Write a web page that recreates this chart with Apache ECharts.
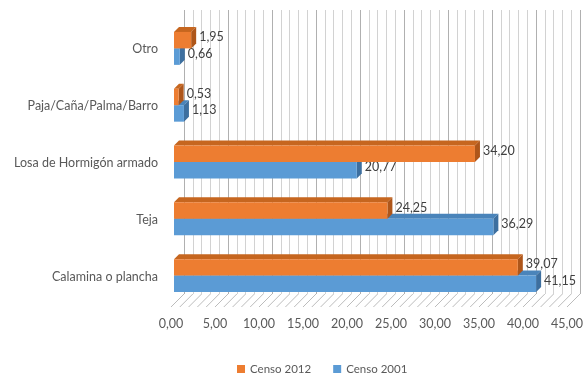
<!DOCTYPE html>
<html>
<head>
<meta charset="utf-8">
<script src="https://cdn.jsdelivr.net/npm/echarts@6/dist/echarts.min.js"></script>
<style>
  html, body { margin: 0; padding: 0; background: #fff; }
  #mychart { width: 587px; height: 375px; }
</style>
</head>
<body>
<div id="mychart"></div>
<script>
// datos (de abajo hacia arriba)
const categorias = ['Calamina o plancha', 'Teja', 'Losa de Hormigón armado', 'Paja/Caña/Palma/Barro', 'Otro']
const censo2012 = [39.07, 24.25, 34.20, 0.53, 1.95]
const censo2001 = [41.15, 36.29, 20.77, 1.13, 0.66]

const fmt = v => v.toFixed(2).replace('.', ',')
const fuente = 'Lato, "Open Sans", sans-serif'

// desplazamientos de la perspectiva
const FRENTE = 10 // cara frontal de la barra respecto a la pared del fondo
const PROF = 5 // profundidad de la barra
const PISO = 13 // profundidad del piso

function barra3d(colores, arriba) {
  return function(params, api) {
    const v = api.value(0)
    const c = api.value(1)
    const p0 = api.coord([0, c])
    const p1 = api.coord([v, c])
    const banda = api.size([0, 1])[1]
    const h = banda * 0.29
    const x = p0[0] - FRENTE
    const y = (arriba ? p0[1] - h : p0[1]) + FRENTE
    const w = Math.max(p1[0] - p0[0], 1)
    return {
      type: 'group',
      children: [
        {
          type: 'polygon',
          shape: { points: [[x, y], [x + PROF, y - PROF], [x + w + PROF, y - PROF], [x + w, y]] },
          style: { fill: colores[1] }
        },
        {
          type: 'polygon',
          shape: { points: [[x + w, y], [x + w + PROF, y - PROF], [x + w + PROF, y + h - PROF], [x + w, y + h]] },
          style: { fill: colores[2] }
        },
        {
          type: 'rect',
          shape: { x: x, y: y, width: w, height: h },
          style: { fill: colores[0] }
        },
        {
          type: 'text',
          x: x + w + PROF + 3,
          y: y + h / 2 - 3,
          style: {
            text: fmt(v),
            fill: '#404040',
            font: '12.5px ' + fuente,
            verticalAlign: 'middle'
          }
        }
      ]
    }
  }
}

const option = {
  animation: false,
  backgroundColor: '#fff',
  grid: [
    { left: 184, top: 10, width: 396, height: 284 }, // pared del fondo
    { left: 171, top: 21, width: 396, height: 284 } // plano frontal (etiquetas)
  ],
  legend: {
    data: ['Censo 2012', 'Censo 2001'],
    icon: 'rect',
    itemWidth: 8,
    itemHeight: 8,
    itemGap: 22,
    top: 358,
    left: 232,
    textStyle: { color: '#595959', fontSize: 11.5, fontFamily: fuente }
  },
  xAxis: [
    {
      gridIndex: 0,
      type: 'value',
      min: 0,
      max: 45,
      interval: 5,
      axisLabel: { show: false },
      axisLine: { show: false },
      axisTick: { show: false },
      minorTick: { show: false, splitNumber: 5 },
      splitLine: { show: true, lineStyle: { color: '#b0b0b0' } },
      minorSplitLine: { show: true, lineStyle: { color: '#d2d2d2' } }
    },
    {
      gridIndex: 1,
      type: 'value',
      min: 0,
      max: 45,
      interval: 5,
      axisLabel: {
        margin: 12,
        color: '#595959',
        fontSize: 12.5,
        fontFamily: fuente,
        formatter: v => fmt(v)
      },
      axisLine: { show: false },
      axisTick: { show: false },
      splitLine: { show: false }
    }
  ],
  yAxis: [
    {
      gridIndex: 0,
      type: 'category',
      data: categorias,
      axisLabel: { show: false },
      axisLine: { show: false },
      axisTick: { show: false }
    },
    {
      gridIndex: 1,
      type: 'category',
      data: categorias,
      axisLabel: { margin: 13, color: '#595959', fontSize: 12.5, fontFamily: fuente },
      axisLine: { show: false },
      axisTick: { show: false }
    }
  ],
  series: [
    {
      // diagonales del piso
      name: 'piso',
      type: 'custom',
      xAxisIndex: 0,
      yAxisIndex: 0,
      silent: true,
      data: Array.from({ length: 46 }, (_, i) => [i, 0]),
      renderItem: function(params, api) {
        const p = api.coord([api.value(0), 0])
        const fondo = params.coordSys.y + params.coordSys.height
        return {
          type: 'line',
          shape: { x1: p[0], y1: fondo, x2: p[0] - PISO, y2: fondo + PISO },
          style: { stroke: '#bcbcbc', lineWidth: 1 }
        }
      }
    },
    {
      name: 'Censo 2001',
      type: 'custom',
      xAxisIndex: 0,
      yAxisIndex: 0,
      itemStyle: { color: '#5B9BD5' },
      data: censo2001.map((v, i) => [v, i]),
      renderItem: barra3d(['#5B9BD5', '#4a84ba', '#3d6f9f'], false)
    },
    {
      name: 'Censo 2012',
      type: 'custom',
      xAxisIndex: 0,
      yAxisIndex: 0,
      itemStyle: { color: '#ED7D31' },
      data: censo2012.map((v, i) => [v, i]),
      renderItem: barra3d(['#ED7D31', '#c6661f', '#ae561a'], true)
    }
  ]
}

const myChart = echarts.init(document.getElementById('mychart'))
myChart.setOption(option)
</script>
</body>
</html>
